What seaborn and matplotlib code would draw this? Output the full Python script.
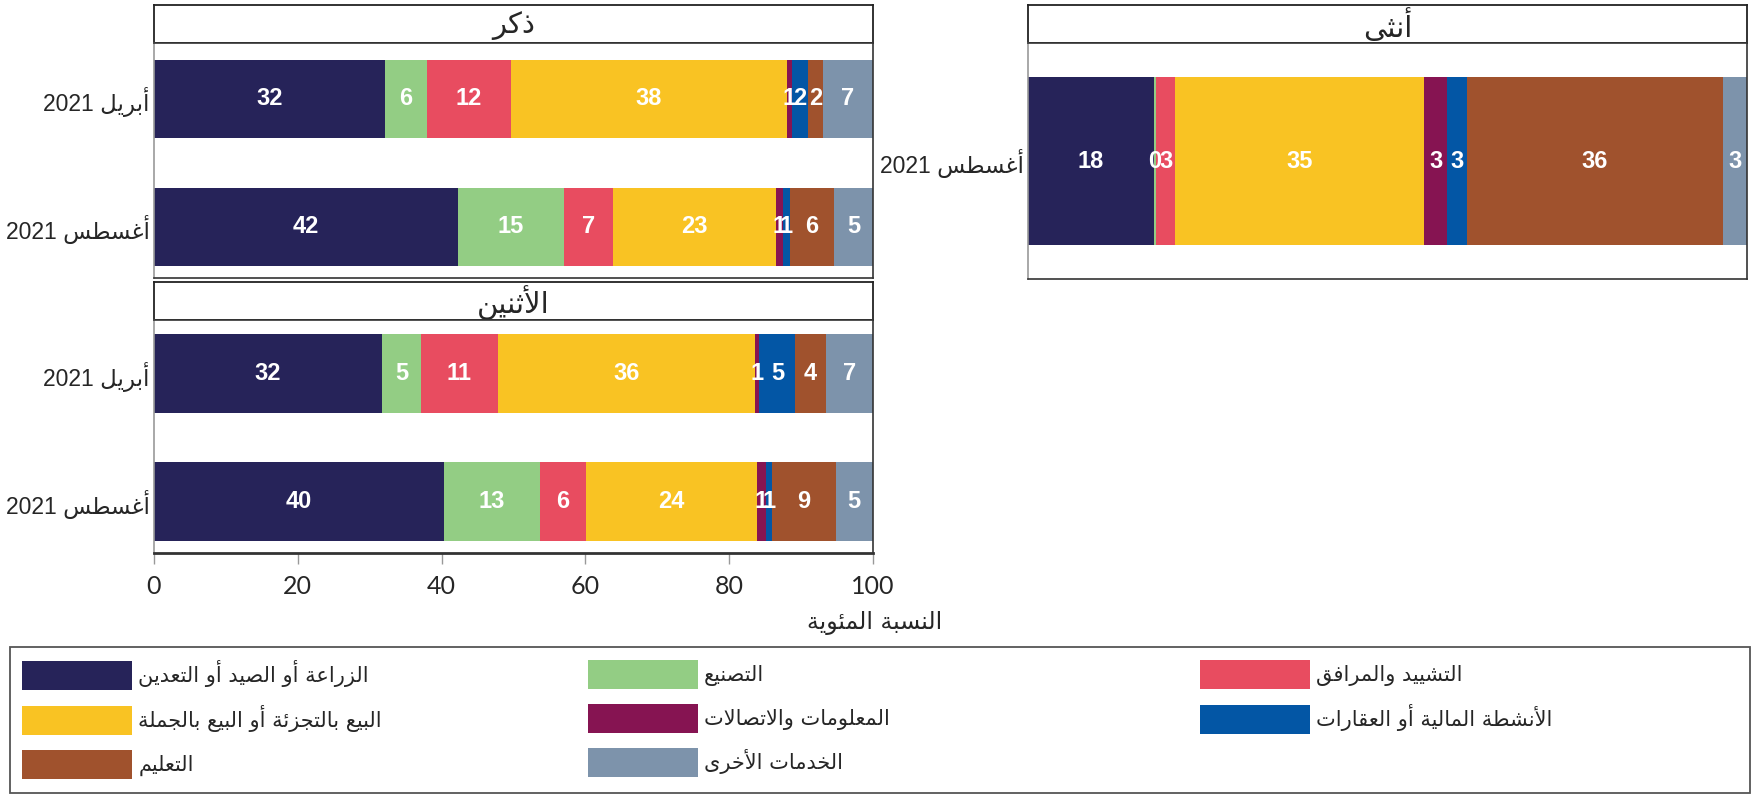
import numpy as np
import pandas as pd
import seaborn as sns
import matplotlib.pyplot as plt
from matplotlib.patches import Patch, Rectangle

# ================= DATA =================
SECTORS = [
    "الزراعة أو الصيد أو التعدين",
    "التصنيع",
    "التشييد والمرافق",
    "البيع بالتجزئة أو البيع بالجملة",
    "المعلومات والاتصالات",
    "الأنشطة المالية أو العقارات",
    "التعليم",
    "الخدمات الأخرى",
]
COLORS = ["#262359", "#93cd84", "#e84c60", "#f9c323",
          "#861452", "#0356a5", "#a0522d", "#7d93ab"]

PERIODS = ["أبريل 2021", "أغسطس 2021"]

# shares (%) per sector, same order as SECTORS
male_apr = [32.1, 5.9, 11.6, 38.4, 0.7, 2.3, 2.0, 7.0]
male_aug = [42.3, 14.7, 6.8, 22.7, 1.0, 0.9, 6.2, 5.4]
both_apr = [31.7, 5.4, 10.7, 35.8, 0.6, 5.0, 4.2, 6.6]
both_aug = [40.3, 13.4, 6.4, 23.8, 1.2, 0.9, 8.8, 5.2]
female_aug = [17.5, 0.3, 2.7, 34.6, 3.2, 2.7, 35.7, 3.3]

TITLE_MALE = "ذكر"
TITLE_FEMALE = "أنثى"
TITLE_BOTH = "الأثنين"
XLABEL = "النسبة المئوية"
XTICKS = [0, 20, 40, 60, 80, 100]
# ========================================

# --------------------------------------------------
# Arabic shaping (matplotlib has no bidi / joining)
# --------------------------------------------------
LETTERS = "ءآأؤإئابةتثجحخدذرزسشصضطظعغفقكلمنهوىي"
DUAL = "ئبتثجحخسشصضطظعغفقكلمنهي"
FORMS = {}
code = 0xFE80
for ch in LETTERS:
    n = 1 if ch == "ء" else (4 if ch in DUAL else 2)
    FORMS[ch] = [chr(code + i) for i in range(n)]
    code += n
LAM_ALEF = {"آ": 0xFEF5, "أ": 0xFEF7, "إ": 0xFEF9, "ا": 0xFEFB}


def shape_word(word):
    out = []
    prev_joins = False
    i = 0
    while i < len(word):
        ch = word[i]
        nxt = word[i + 1] if i + 1 < len(word) else ""
        if ch == "ل" and nxt in LAM_ALEF:
            out.append(chr(LAM_ALEF[nxt] + (1 if prev_joins else 0)))
            prev_joins = False
            i += 2
            continue
        if ch not in FORMS:
            out.append(ch)
            prev_joins = False
            i += 1
            continue
        forms = FORMS[ch]
        next_joins = len(forms) == 4 and nxt in FORMS and nxt != "ء"
        if prev_joins and next_joins:
            f = 3
        elif prev_joins:
            f = 1
        elif next_joins:
            f = 2
        else:
            f = 0
        out.append(forms[min(f, len(forms) - 1)])
        prev_joins = next_joins
        i += 1
    return "".join(reversed(out))


def ar(text):
    tokens = text.split(" ")
    shaped = [shape_word(t) if any(c in FORMS for c in t) else t for t in tokens]
    return " ".join(reversed(shaped))


# --------------------------------------------------
# Style
# --------------------------------------------------
sns.set_theme(style="white")
plt.rcParams["font.family"] = ["Liberation Sans", "DejaVu Sans"]

W, H = 1756, 795
fig = plt.figure(figsize=(W / 100, H / 100), dpi=100)


def box(l, t, r, b):
    return [l / W, 1 - b / H, (r - l) / W, (b - t) / H]


AR_FONT = ["DejaVu Sans"]
NUM_FONT = ["Liberation Sans Narrow", "Liberation Sans", "DejaVu Sans"]


def strip(rect, title):
    sax = fig.add_axes(rect)
    sax.set_xticks([])
    sax.set_yticks([])
    for s in sax.spines.values():
        s.set_color("#222222")
        s.set_linewidth(1.3)
    sax.text(0.5, 0.45, ar(title), ha="center", va="center",
             fontsize=21, family=AR_FONT, transform=sax.transAxes)


def draw_panel(ax, rows, periods, width):
    df = pd.DataFrame(rows, columns=SECTORS)
    df["period"] = periods
    long = df.melt(id_vars="period", var_name="sector", value_name="share")
    long["end"] = long.groupby("period")["share"].cumsum()
    long["mid"] = long["end"] - long["share"] / 2

    # overlay cumulative bars, longest first -> stacked look
    for sector, color in reversed(list(zip(SECTORS, COLORS))):
        sub = long[long["sector"] == sector]
        sns.barplot(data=sub, x="end", y="period", order=periods,
                    color=color, saturation=1, width=width,
                    errorbar=None, linewidth=0, ax=ax)

    for _, r in long.iterrows():
        ax.text(r["mid"], periods.index(r["period"]), f"{r['share']:.0f}",
                ha="center", va="center", color="white", fontsize=17,
                fontweight="bold", family=NUM_FONT)

    ax.set_xlim(0, 100)
    ax.set_xlabel("")
    ax.set_ylabel("")
    ax.set_yticks(range(len(periods)), [ar(p) for p in periods], fontsize=16.5)
    ax.tick_params(axis="y", length=0, pad=3)
    for s in ax.spines.values():
        s.set_color("#333333")
        s.set_linewidth(1.2)
    ax.spines["left"].set_color("#999999")


# --------------------------------------------------
# Male panel
# --------------------------------------------------
strip(box(154, 5, 873, 43), TITLE_MALE)
ax_m = fig.add_axes(box(154, 43, 873, 278))
draw_panel(ax_m, [male_apr, male_aug], PERIODS, 0.61)
ax_m.set_ylim(1.40, -0.434)
ax_m.set_xticks([])

# --------------------------------------------------
# Both panel
# --------------------------------------------------
strip(box(154, 282, 873, 320), TITLE_BOTH)
ax_b = fig.add_axes(box(154, 320, 873, 553))
draw_panel(ax_b, [both_apr, both_aug], PERIODS, 0.61)
ax_b.set_ylim(1.402, -0.418)
ax_b.set_xticks(XTICKS, [str(t) for t in XTICKS])
ax_b.tick_params(axis="x", length=8, width=1, color="#999999",
                 labelsize=18, pad=8, bottom=True)
for lab in ax_b.get_xticklabels():
    lab.set_family(["Lato", "DejaVu Sans"])
ax_b.spines["bottom"].set_linewidth(2)

# --------------------------------------------------
# Female panel
# --------------------------------------------------
strip(box(1028, 5, 1747, 43), TITLE_FEMALE)
ax_f = fig.add_axes(box(1028, 43, 1747, 279))
draw_panel(ax_f, [female_aug], PERIODS[1:], 0.716)
ax_f.set_ylim(0.5, -0.5)
ax_f.set_xticks([])

fig.text(875 / W, 1 - 623 / H, ar(XLABEL), ha="center", va="center",
         fontsize=17, family=AR_FONT)

# --------------------------------------------------
# Legend (3 columns, row-major order)
# --------------------------------------------------
fig.patches.append(Rectangle((10 / W, 1 - 793 / H), 1740 / W, 146 / H,
                             transform=fig.transFigure, fill=False,
                             edgecolor="#555555", linewidth=1.3))
handles = [Patch(facecolor=c, edgecolor="none") for c in COLORS]
col_x = [22, 588, 1200]
fs = 15
for ci, x in enumerate(col_x):
    idx = list(range(ci, len(SECTORS), 3))
    fig.legend([handles[i] for i in idx], [ar(SECTORS[i]) for i in idx],
               loc="upper left", bbox_to_anchor=(x / W, 1 - 660 / H),
               frameon=False, borderpad=0, borderaxespad=0,
               handlelength=79.2 / fs, handleheight=1.77,
               labelspacing=0.72, handletextpad=0.3,
               prop={"family": AR_FONT, "size": fs})

fig.savefig("out.png", dpi=100)
